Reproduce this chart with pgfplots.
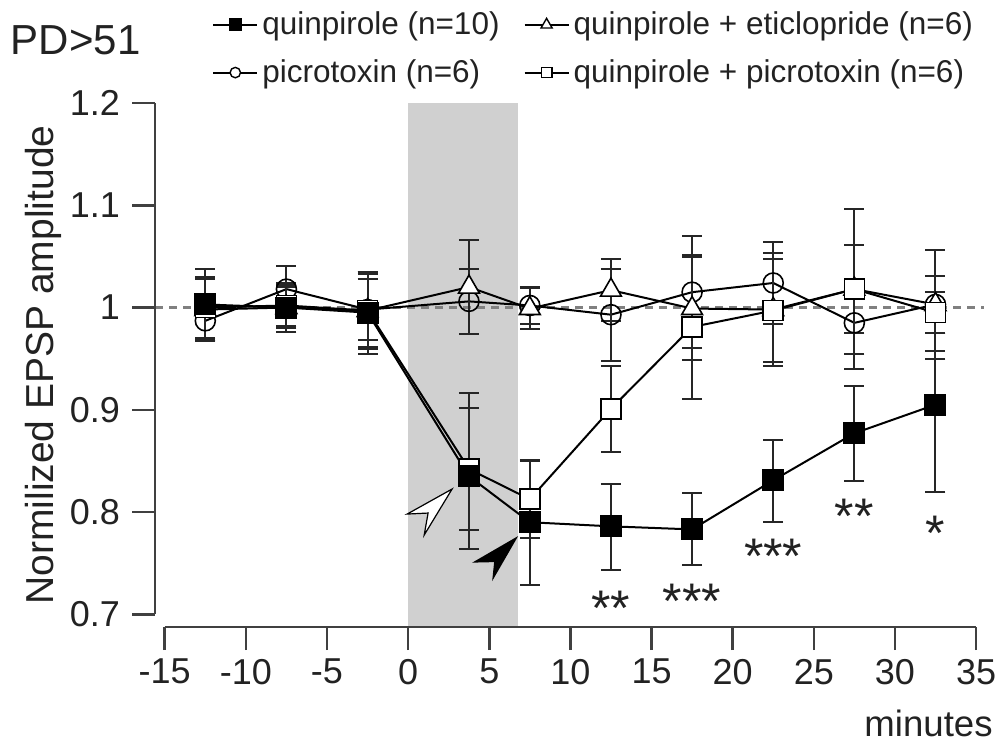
\documentclass[border=0pt]{standalone}
\usepackage{pgfplots}
\usepackage{pgfplotstable}
\pgfplotsset{compat=1.18}
\usepackage{fontspec}
\setmainfont{Liberation Sans}
\definecolor{rectgray}{HTML}{D0D0D0}
\definecolor{axgray}{HTML}{404040}
\definecolor{dashgray}{HTML}{808080}
\definecolor{txt}{HTML}{222222}
\pgfplotstableread{
x y ep em
-12.5 1.003 0.035 0.035
-7.5 1.000 0.020 0.020
-2.5 0.995 0.040 0.040
3.75 0.835 0.081 0.071
7.5 0.790 0.060 0.061
12.5 0.786 0.041 0.043
17.5 0.783 0.036 0.035
22.5 0.831 0.039 0.041
27.5 0.877 0.046 0.047
32.5 0.905 0.052 0.085
}\quin
\pgfplotstableread{
x y ep em
-12.5 1.000 0.030 0.030
-7.5 1.002 0.020 0.020
-2.5 0.997 0.038 0.038
3.75 0.842 0.060 0.060
7.5 0.8125 0.038 0.038
12.5 0.901 0.042 0.042
17.5 0.981 0.070 0.070
22.5 0.997 0.050 0.050
27.5 1.018 0.043 0.043
32.5 0.995 0.020 0.020
}\quinpicro
\pgfplotstableread{
x y ep em
-12.5 0.987 0.020 0.020
-7.5 1.018 0.023 0.023
-2.5 0.998 0.030 0.030
3.75 1.006 0.032 0.032
7.5 1.002 0.018 0.018
12.5 0.993 0.045 0.045
17.5 1.015 0.055 0.055
22.5 1.024 0.040 0.040
27.5 0.985 0.030 0.030
32.5 1.003 0.053 0.053
}\picro
\pgfplotstableread{
x y ep em
-12.5 0.998 0.030 0.030
-7.5 1.000 0.024 0.024
-2.5 0.997 0.036 0.036
3.75 1.020 0.046 0.046
7.5 0.999 0.020 0.020
12.5 1.017 0.030 0.030
17.5 0.999 0.050 0.050
22.5 0.998 0.055 0.055
27.5 1.018 0.078 0.078
32.5 1.003 0.028 0.028
}\etic
\begin{document}
\begin{tikzpicture}
\begin{axis}[
  scale only axis, width=410.5pt, height=262pt,
  xmin=-15.6, xmax=35, ymin=0.6875, ymax=1.2,
  clip=false,
  axis line style={draw=none},
  tick align=outside, xtick pos=left, ytick pos=left,
  xtick={-15,-10,-5,0,5,10,15,20,25,30,35},
  ytick={0.7,0.8,0.9,1,1.1,1.2},
  minor tick num=0,
  major tick length=11.5pt,
  tick style={line width=1.25pt, color=axgray},
  ticklabel style={font=\fontsize{18}{21}\selectfont, text=txt},
  xticklabel style={yshift=-1pt},
  yticklabel style={xshift=-2.5pt, /pgf/number format/fixed},
  /pgf/number format/assume math mode=true,
  ylabel={Normilized EPSP amplitude},
  ylabel style={at={(axis description cs:-0.124,0.5)}, anchor=base, rotate=0, inner sep=0pt, font=\fontsize{19.5}{22}\selectfont, text=txt},
  legend columns=2, legend cell align=left,
  legend style={at={(axis description cs:0.062,1.19)}, anchor=north west, draw=none, fill=none,
    font=\fontsize{15.75}{19}\selectfont, text=txt,
    /tikz/every even column/.append style={column sep=10pt}, row sep=7pt},
  legend image code/.code={\draw[mark repeat=2,mark phase=2,#1] plot coordinates {(0pt,0pt) (11pt,0pt) (22pt,0pt)};},
  every axis plot/.append style={line width=1pt, color=black},
  error bars/y dir=both, error bars/y explicit,
  error bars/error bar style={line width=1pt, color=black!85},
  error bars/error mark options={rotate=90, mark size=5pt, line width=1pt, color=black!85},
]
\coordinate (BBSW) at (axis description cs:-0.1888,-0.2252);
\coordinate (BBNE) at (axis description cs:1.0304,1.1966);
\fill[rectgray] (axis cs:0,0.6875) rectangle (axis cs:6.8,1.2);
\draw[dashgray, line width=1.4pt, dash pattern=on 4pt off 3pt] (axis cs:-15.6,1) -- (axis cs:35.5,1);
\draw[axgray, line width=1.25pt] (axis cs:-15.6,0.7) -- (axis cs:-15.6,1.2);
\draw[axgray, line width=1.25pt] (axis cs:-15,0.6875) -- (axis cs:35,0.6875);

\addplot[mark=o, mark size=5pt, mark options={fill=white, line width=0.8pt}, forget plot]
  table[x=x, y=y, y error plus=ep, y error minus=em] {\picro};
\addplot[mark=triangle*, mark size=6pt, mark options={fill=white, line width=0.8pt}, forget plot]
  table[x=x, y=y, y error plus=ep, y error minus=em] {\etic};
\addplot[mark=square*, mark size=5pt, mark options={fill=white, line width=0.8pt}, forget plot]
  table[x=x, y=y, y error plus=ep, y error minus=em] {\quinpicro};
\addplot[mark=square*, mark size=5pt, mark options={fill=black}, forget plot]
  table[x=x, y=y, y error plus=ep, y error minus=em] {\quin};

\addlegendimage{black, line width=1pt, mark=square*, mark size=2.8pt, mark options={fill=black}}
\addlegendentry{quinpirole (n=10)}
\addlegendimage{black, line width=1pt, mark=triangle*, mark size=3.2pt, mark options={fill=white, line width=0.7pt}}
\addlegendentry{quinpirole + eticlopride (n=6)}
\addlegendimage{black, line width=1pt, mark=*, mark size=2.6pt, mark options={fill=white, line width=0.7pt}}
\addlegendentry{picrotoxin (n=6)}
\addlegendimage{black, line width=1pt, mark=square*, mark size=2.6pt, mark options={fill=white, line width=0.7pt}}
\addlegendentry{quinpirole + picrotoxin (n=6)}

\fill[white, draw=black, line width=0.6pt] (axis cs:2.71,0.8225) -- (axis cs:-0.06,0.798) -- (axis cs:1.23,0.799) -- (axis cs:0.99,0.7775) -- cycle;
\fill[black] (axis cs:6.78,0.7765) -- (axis cs:3.95,0.7505) -- (axis cs:5.3,0.751) -- (axis cs:5.18,0.7325) -- cycle;

\node[anchor=base, inner sep=0pt, font=\fontsize{25}{25}\selectfont, text=txt] at (axis cs:12.5,0.689) {**};
\node[anchor=base, inner sep=0pt, font=\fontsize{25}{25}\selectfont, text=txt] at (axis cs:17.5,0.696) {***};
\node[anchor=base, inner sep=0pt, font=\fontsize{25}{25}\selectfont, text=txt] at (axis cs:22.5,0.740) {***};
\node[anchor=base, inner sep=0pt, font=\fontsize{25}{25}\selectfont, text=txt] at (axis cs:27.5,0.779) {**};
\node[anchor=base, inner sep=0pt, font=\fontsize{25}{25}\selectfont, text=txt] at (axis cs:32.5,0.7627) {*};

\node[anchor=base west, inner sep=0pt, font=\fontsize{21}{24}\selectfont, text=txt] at (axis description cs:-0.176,1.0935) {PD>51};
\node[anchor=base east, inner sep=0pt, font=\fontsize{18.3}{21}\selectfont, text=txt] at (axis description cs:1.0207,-0.208) {minutes};
\end{axis}
\pgfresetboundingbox
\useasboundingbox (BBSW) rectangle (BBNE);
\end{tikzpicture}
\end{document}
